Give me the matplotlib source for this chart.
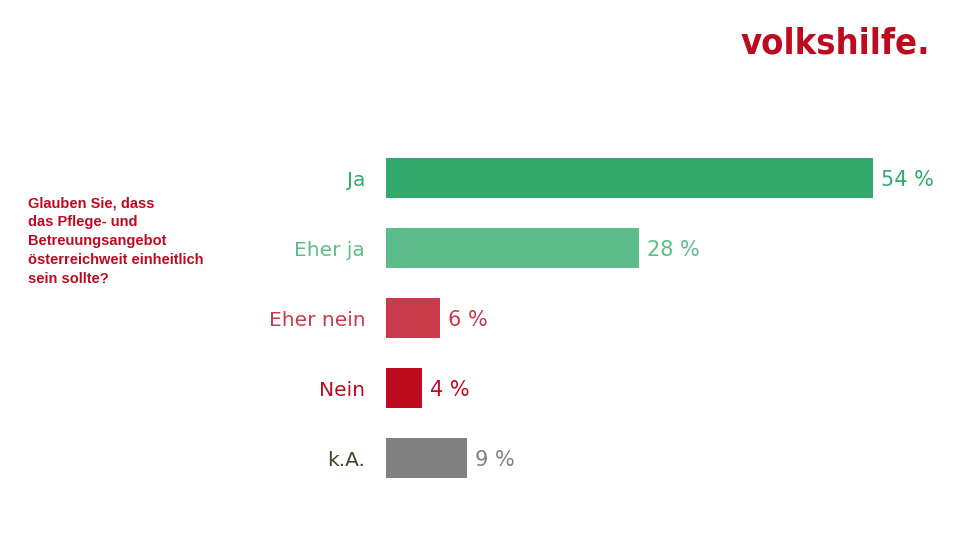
import matplotlib
matplotlib.use("Agg")
import matplotlib.pyplot as plt

categories = ["Ja", "Eher ja", "Eher nein", "Nein", "k.A."]
values = [54, 28, 6, 4, 9]
bar_colors = ["#33AA6B", "#5CBD8A", "#C93A4A", "#BE0A1E", "#808080"]
label_colors = ["#33AA6B", "#5CBD8A", "#C93A4A", "#BE0A1E", "#3A4A2A"]
value_colors = ["#33AA6B", "#5CBD8A", "#C93A4A", "#BE0A1E", "#808080"]
question = "Glauben Sie, dass\ndas Pflege- und\nBetreuungsangebot\nösterreichweit einheitlich\nsein sollte?"

plt.rcParams['font.family'] = ['Liberation Sans', 'DejaVu Sans']
fig = plt.figure(figsize=(9.6, 5.4), dpi=100)
ax = fig.add_axes([386/960, 1-493/540, 487/960, 350/540])
ys = list(range(len(categories)))
ax.barh(ys, values, height=0.57, color=bar_colors)
ax.set_xlim(0, 54)
ax.set_ylim(4.5, -0.5)
for y, v, c in zip(ys, values, value_colors):
    ax.text(v + 0.9, y + 0.03, f"{v} %", color=c, fontsize=15, va="center", ha="left",
            family="DejaVu Sans")
ax.set_yticks(ys)
ax.set_yticklabels(categories, fontsize=14.5, family="DejaVu Sans")
for t, c in zip(ax.get_yticklabels(), label_colors):
    t.set_color(c)
ax.tick_params(axis="y", length=0, pad=15)
ax.set_xticks([])
for s in ax.spines.values():
    s.set_visible(False)

fig.text(28/960, 1-196/540, question, color="#BE0A1E", fontsize=10.5,
         fontweight="bold", va="top", ha="left", linespacing=1.45)
fig.text(930/960, 1-53/540, "volkshilfe.", color="#BE0A1E", fontsize=26,
         fontweight="bold", ha="right", va="baseline",
         family="DejaVu Sans", fontstretch="condensed")
fig.savefig("out.png", dpi=100)
